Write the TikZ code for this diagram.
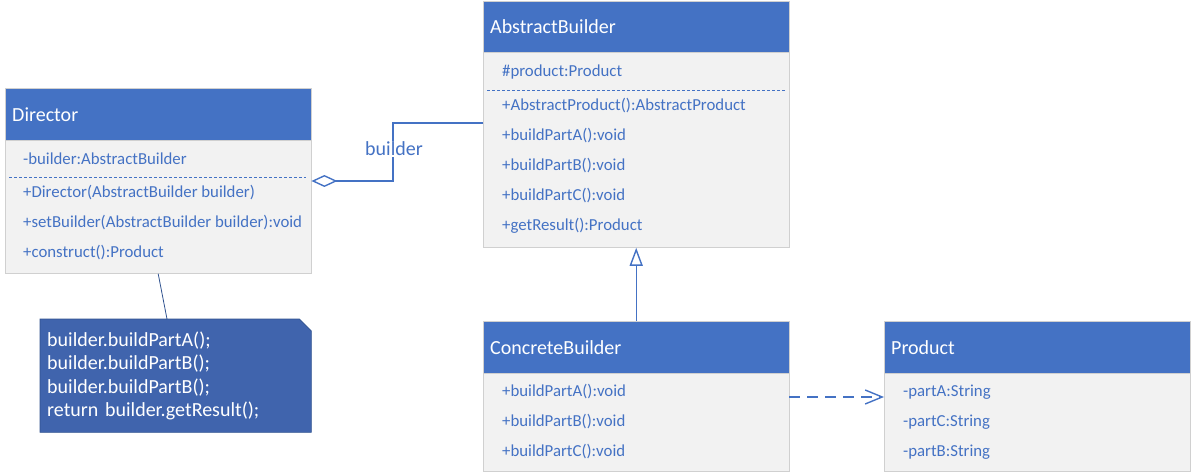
\documentclass[tikz,border=0pt]{standalone}
\usepackage{fontspec}
\setmainfont{Carlito}
\usetikzlibrary{arrows.meta,positioning,calc,backgrounds}
\definecolor{umlblue}{HTML}{4472C4}
\definecolor{umlgray}{HTML}{F2F2F2}
\definecolor{umledge}{HTML}{D0D0D0}
\definecolor{notefill}{HTML}{4064AD}
\definecolor{notedark}{HTML}{2F528F}

\begin{document}
\begin{tikzpicture}[x=1pt,y=-1pt,
    head/.style={rectangle,draw=umledge,fill=umlblue,text=white,anchor=north west,
                 minimum height=52pt,text width=292pt,inner xsep=7pt,align=left,
                 font=\fontsize{20}{24}\selectfont},
    body/.style={rectangle,draw=umledge,fill=umlgray,minimum width=306pt,inner sep=0pt},
    member/.style={anchor=west,inner sep=0pt,text=umlblue,
                   font=\fontsize{16.8}{20}\selectfont},
    sep/.style={umlblue,line width=0.9pt,dash pattern=on 3pt off 2pt},
    conn/.style={umlblue,line width=1.4pt},
    agg/.style={conn,-{Diamond[open,length=26pt,width=12pt]}},
    gen/.style={conn,-{Triangle[open,length=18pt,width=13pt]}},
    dep/.style={conn,dash pattern=on 11pt off 7pt,-{Straight Barb[length=17pt,width=14pt]}},
    note/.style={rectangle,anchor=north west,text=white,align=left,
                 minimum height=113pt,text width=257pt,inner xsep=7pt,
                 font=\fontsize{20}{23.5}\selectfont},
    lbl/.style={fill=white,inner sep=1pt,text=umlblue,font=\fontsize{20}{24}\selectfont}
  ]
    \useasboundingbox (0,0) rectangle (1192,473);

    % Director
    \node[head] (dirHead) at (5,88) {Director};
    \node[body,minimum height=133pt,below=0pt of dirHead] (dirBody) {};
    \node[member] (dirAttr) at (23,159) {-builder:AbstractBuilder};
    \draw[sep] (9,177) -- (306,177);
    \node[member] (dirM1) at (23,193) {+Director(AbstractBuilder builder)};
    \node[member] (dirM2) at (23,223) {+setBuilder(AbstractBuilder builder):void};
    \node[member] (dirM3) at (23,253) {+construct():Product};

    % AbstractBuilder
    \node[head,minimum height=51pt] (abHead) at (483,1) {AbstractBuilder};
    \node[body,minimum height=195pt,below=0pt of abHead] (abBody) {};
    \node[member] (abAttr) at (502,72) {\#product:Product};
    \draw[sep] (487,90) -- (786,90);
    \node[member] (abM1) at (502,106) {+AbstractProduct():AbstractProduct};
    \node[member] (abM2) at (502,136) {+buildPartA():void};
    \node[member] (abM3) at (502,166) {+buildPartB():void};
    \node[member] (abM4) at (502,196) {+buildPartC():void};
    \node[member] (abM5) at (502,226) {+getResult():Product};

    % ConcreteBuilder
    \node[head] (cbHead) at (483,321) {ConcreteBuilder};
    \node[body,minimum height=98pt,below=0pt of cbHead] (cbBody) {};
    \node[member] (cbM1) at (502,392) {+buildPartA():void};
    \node[member] (cbM2) at (502,422) {+buildPartB():void};
    \node[member] (cbM3) at (502,452) {+buildPartC():void};

    % Product
    \node[head] (prHead) at (884,321) {Product};
    \node[body,minimum height=98pt,below=0pt of prHead] (prBody) {};
    \node[member] (prA1) at (903,392) {-partA:String};
    \node[member] (prA2) at (903,422) {-partC:String};
    \node[member] (prA3) at (903,452) {-partB:String};

    % note
    \node[note] (note) at (40,319)
      {builder.buildPartA();\\builder.buildPartB();\\builder.buildPartB();\\return builder.getResult();};
    \begin{scope}[on background layer]
      \filldraw[fill=notefill,draw=notedark,line width=0.6pt]
        (note.north west) -- ($(note.north east)+(-12,0)$) -- ($(note.north east)+(0,12)$)
        -- (note.south east) -- (note.south west) -- cycle;
    \end{scope}
    \draw[notedark,line width=0.8pt] (dirBody.south) -- ($(note.north west)+(127,0)$);

    % relations
    \draw[agg] (abBody.west |- 0,123) -| (393,181) -- (dirBody.east |- 0,181);
    \node[lbl] (aggLabel) at (394,149) {builder};
    \draw[gen] (cbHead.north) -- (abBody.south);
    \draw[dep] (cbBody.east |- 0,397) -- (prBody.west |- 0,397);
  \end{tikzpicture}
\end{document}
